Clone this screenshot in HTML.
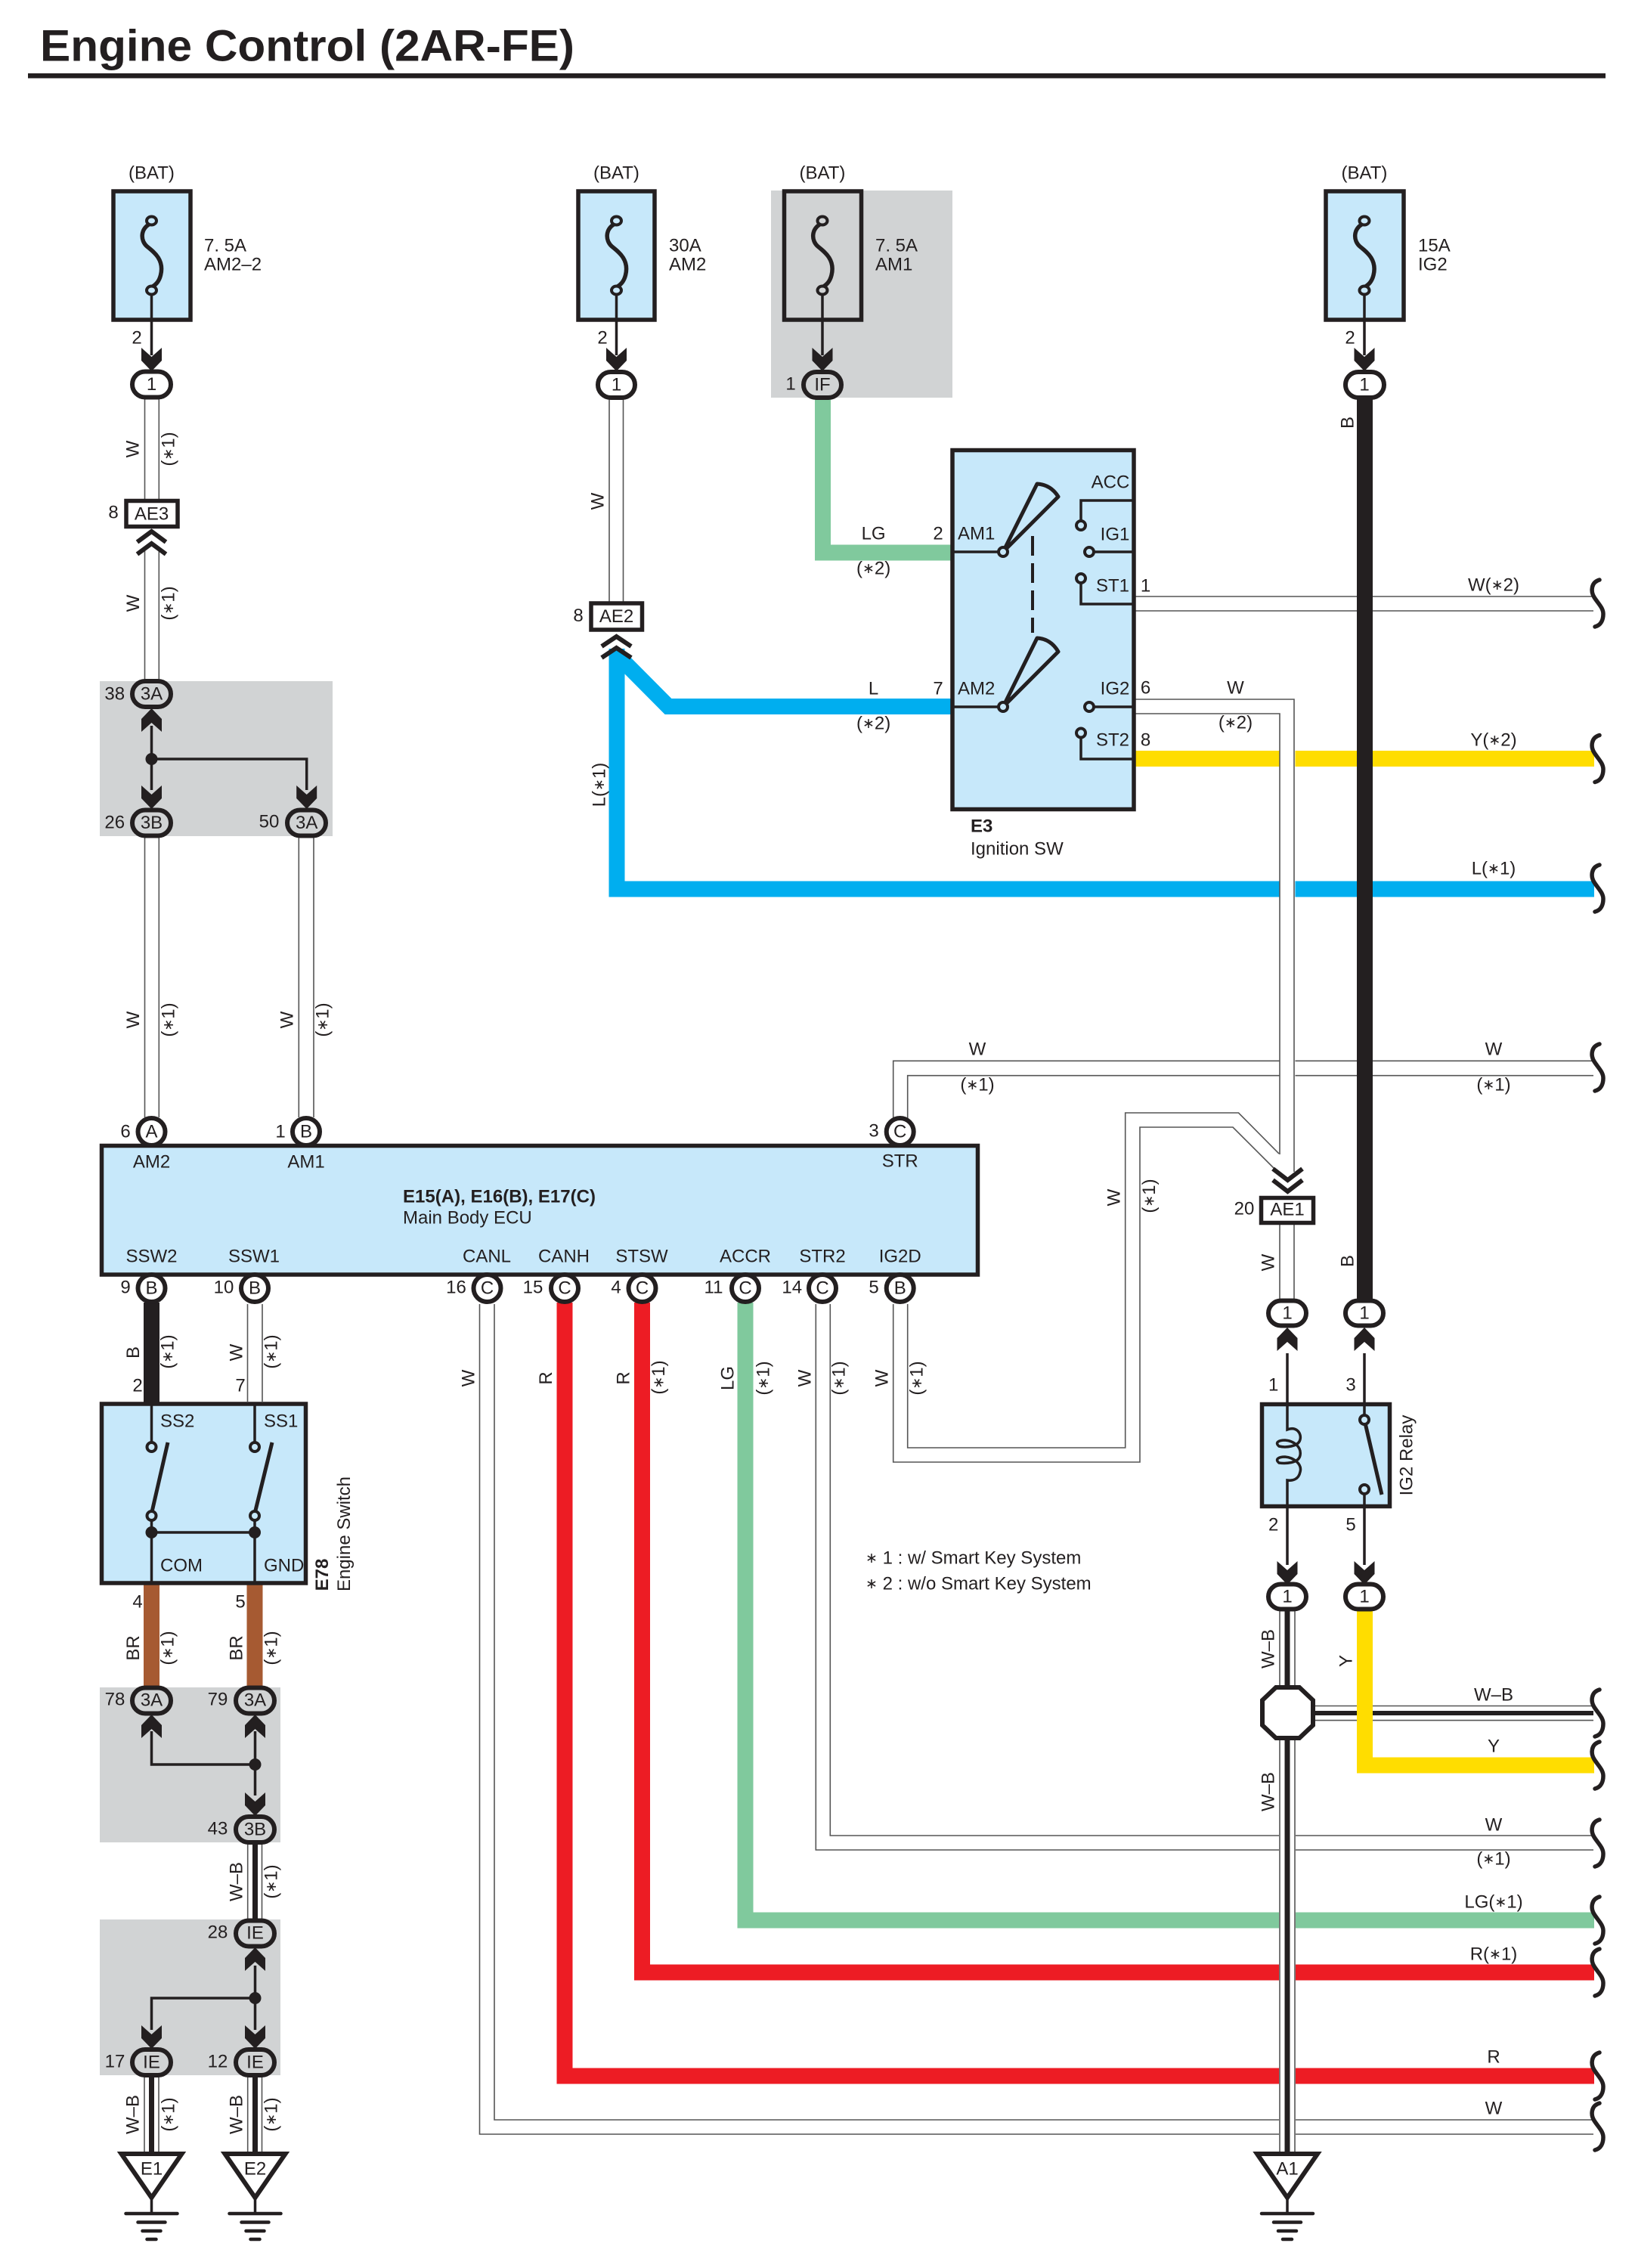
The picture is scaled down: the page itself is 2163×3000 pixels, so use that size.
<!DOCTYPE html>
<html><head><meta charset="utf-8"><title>Engine Control (2AR-FE)</title>
<style>
html,body{margin:0;padding:0;background:#fff}
svg{display:block}
text{font-family:"Liberation Sans",sans-serif;font-size:24px;fill:#231f20;text-anchor:middle;dominant-baseline:central}
.a{font-size:19px}
.b{font-weight:bold}
.s{text-anchor:start}
.w{fill:none;stroke:#555;stroke-width:1.6}
.t{fill:none;stroke:#231f20;stroke-width:3.5}
.p{fill:#fff;stroke:#231f20;stroke-width:6}
.pg{fill:#d1d3d4;stroke:#231f20;stroke-width:6}
.box{fill:#c7e8fa;stroke:#231f20;stroke-width:5.5}
.bk{fill:#fff;stroke:#231f20;stroke-width:5.5}
.hv{fill:none;stroke-width:21}
.ch{fill:none;stroke:#231f20;stroke-width:6}
</style></head><body>
<svg xmlns="http://www.w3.org/2000/svg" width="2163" height="3000" viewBox="0 0 2163 3000">
<defs>
<path id="ad" fill="#231f20" d="M-13.5,-30 L0,-18 L13.5,-30 V-13 L0,1 L-13.5,-13Z"/>
<path id="au" fill="#231f20" d="M-13.5,30 L0,18 L13.5,30 V13 L0,-1 L-13.5,13Z"/>
<g id="fuse"><path fill="none" stroke="#231f20" stroke-width="5.5" d="M-2,4 C-15,11 -15,26 -6,34 C4,42 17,52 12,72 C10,80 6,85 -2,89"/><ellipse cx="0" cy="0" rx="6.500" ry="5.500" stroke="#231f20" stroke-width="4"/><ellipse cx="0" cy="92" rx="6.500" ry="5.500" stroke="#231f20" stroke-width="4"/></g>
<path id="br" fill="none" stroke="#231f20" stroke-width="5.5" stroke-linecap="round" d="M3,-31 C-8,-28 -9,-16 -4,-8 C1,0 8,6 8,14 C8,22 5,29 -3,31"/>
<g id="gnd"><path fill="#fff" stroke="#231f20" stroke-width="6" d="M-40,2 H40 L0,60Z"/><path stroke="#231f20" stroke-width="3.5" d="M0,60V81"/><path stroke="#231f20" stroke-width="4.5" stroke-linecap="round" d="M-34,81H34 M-18,92.500H18 M-12,104H12 M-6,115H6"/></g>
<path id="chu" class="ch" d="M-19,17 L0,3 L19,17 M-19,33 L0,19 L19,33"/>
</defs>
<rect width="2163" height="3000" fill="#fff"/>

<!-- title -->
<text class="b s" x="53" y="61" style="font-size:58px" textLength="707" lengthAdjust="spacingAndGlyphs">Engine Control (2AR-FE)</text>
<rect x="37" y="97" width="2087" height="6.500" fill="#231f20"/>

<!-- gray zones -->
<g fill="#d1d3d4">
<rect x="1020" y="252" width="240" height="274"/>
<rect x="132" y="901" width="308" height="205"/>
<rect x="132" y="2232" width="239" height="205"/>
<rect x="132" y="2539" width="239" height="206"/>
</g>

<!-- thin white wires -->
<path class="w" d="M191.500,528V660M210.300,528V660M191.500,725V900M210.300,725V900M191.500,1108V1478M210.300,1108V1478M395.300,1108V1478M415,1108V1478M327.500,1725V1854M347,1725V1854M806,528V796M824.500,528V796
M1181.700,1480V1403.300H2108M1200.700,1480V1422.700H2108
M634.500,1725V2823H2108M654,1725V2804H2108
M1079.300,1725V2447H2108M1098.300,1725V2428H2108
M1181.700,1725V1934H1508V1491H1631L1685,1545M1200.700,1725V1915H1488.700V1472H1638.500L1692,1526
M1502,789H2108M1502,808H2108"/>

<!-- colored horizontals/verticals -->
<path class="hv" stroke="#80c99d" d="M1088.500,526V731H1258"/>
<path class="hv" stroke="#80c99d" d="M986,1723V2540H2109"/>
<path class="hv" stroke="#ed1c24" d="M849.500,1723V2609H2109"/>
<path class="hv" stroke="#ed1c24" d="M747,1723V2746H2109"/>
<path class="hv" stroke="#00aeef" d="M816,858V1176H2109"/>
<path class="hv" stroke="#00aeef" d="M816,866L884,934.500H1258"/>
<path class="hv" stroke="#ffdd00" d="M1502,1003.500H2109"/>

<!-- W-B horizontal -->
<path class="w" d="M1738,2256.500H2108M1738,2275.600H2108"/>
<path d="M1738,2266H2108" stroke="#231f20" stroke-width="6" fill="none"/>
<path class="hv" stroke="#ffdd00" d="M1805.500,2130V2335H2109"/>

<!-- vertical overlay W6 -->
<rect x="1692.500" y="925" width="21" height="622" fill="#fff"/>
<path class="w" d="M1502,925H1712V1550M1502,944H1693V1527"/>
<path class="w" d="M1693,1620V1718M1712,1620V1718"/>
<!-- black B wire -->
<path class="hv" stroke="#231f20" d="M1805.500,526V1720"/>

<!-- W-B vertical -->
<rect x="1692" y="2300" width="22" height="548" fill="#fff"/>
<path class="w" d="M1693,2130V2232M1713,2130V2232M1693,2300V2848M1713,2300V2848"/>
<path d="M1703,2130V2232M1703,2300V2848" stroke="#231f20" stroke-width="7" fill="none"/>

<!-- left column wires -->
<path class="hv" stroke="#231f20" d="M200.500,1723V1856"/>
<path class="hv" stroke="#a65a32" d="M200.500,2096V2232"/>
<path class="hv" stroke="#a65a32" d="M337,2096V2232"/>
<path class="w" d="M327.700,2438V2540M346.500,2438V2540M327.700,2746V2848M346.500,2746V2848M191,2746V2848M210,2746V2848"/>
<path d="M337.500,2438V2540M337.500,2746V2848M200.500,2746V2848" stroke="#231f20" stroke-width="7" fill="none"/>

<!-- fuses -->
<rect class="box" x="150" y="253" width="102" height="170"/>
<rect class="box" x="765" y="253" width="101" height="170"/>
<rect class="pg" x="1037.500" y="253" width="102" height="170" style="stroke-width:5.500"/>
<rect class="box" x="1754" y="253" width="103" height="170"/>
<use href="#fuse" x="200.500" y="292" fill="#c7e8fa"/>
<use href="#fuse" x="815.500" y="292" fill="#c7e8fa"/>
<use href="#fuse" x="1088" y="292" fill="#d1d3d4"/>
<use href="#fuse" x="1805" y="292" fill="#c7e8fa"/>
<path class="t" d="M200.500,389V470M815.500,389V470M1088,389V470M1805,389V470"/>

<!-- arrowheads -->
<use href="#ad" x="200.500" y="490"/><use href="#ad" x="815.500" y="490"/><use href="#ad" x="1088" y="490"/><use href="#ad" x="1805" y="490"/>
<use href="#au" x="200.500" y="938"/><use href="#ad" x="200.500" y="1069"/><use href="#ad" x="405.700" y="1069"/>
<use href="#au" x="200.500" y="2269"/><use href="#au" x="337.500" y="2269"/><use href="#ad" x="337.500" y="2401"/>
<use href="#au" x="337.500" y="2577"/><use href="#ad" x="200.500" y="2709"/><use href="#ad" x="337.500" y="2709"/>
<use href="#au" x="1703" y="1757"/><use href="#au" x="1805" y="1757"/><use href="#ad" x="1703" y="2095"/><use href="#ad" x="1805" y="2095"/>

<!-- junction lines -->
<path class="t" d="M200.500,960V1045M200.500,1004H405.700V1045"/>
<circle cx="200.500" cy="1004" r="8" fill="#231f20"/>
<path class="t" d="M200.500,2290V2334H337.500M337.500,2290V2375"/>
<circle cx="337.500" cy="2334" r="8" fill="#231f20"/>
<path class="t" d="M337.500,2600V2685M337.500,2643H200.500V2685"/>
<circle cx="337.500" cy="2643" r="8" fill="#231f20"/>

<!-- pills -->
<rect class="p" x="175" y="491.500" width="51" height="34" rx="17"/>
<rect class="p" x="791" y="492" width="49" height="34" rx="17"/>
<rect class="pg" x="1063" y="492" width="50" height="34" rx="17"/>
<rect class="p" x="1780" y="492" width="51" height="34" rx="17"/>
<rect class="pg" x="175" y="901" width="51" height="34" rx="17"/>
<rect class="pg" x="175" y="1071.500" width="51" height="34" rx="17"/>
<rect class="pg" x="380" y="1071.500" width="51" height="34" rx="17"/>
<rect class="pg" x="175" y="2232.500" width="51" height="34" rx="17"/>
<rect class="pg" x="312" y="2232.500" width="51" height="34" rx="17"/>
<rect class="pg" x="312" y="2403" width="51" height="34" rx="17"/>
<rect class="pg" x="312" y="2540.500" width="51" height="34" rx="17"/>
<rect class="pg" x="175" y="2711" width="51" height="34" rx="17"/>
<rect class="pg" x="312" y="2711" width="51" height="34" rx="17"/>
<rect class="p" x="1678" y="1720.500" width="50" height="33" rx="16.500"/>
<rect class="p" x="1780" y="1720.500" width="50" height="33" rx="16.500"/>
<rect class="p" x="1678" y="2095.500" width="50" height="33" rx="16.500"/>
<rect class="p" x="1780" y="2095.500" width="50" height="33" rx="16.500"/>

<!-- AE boxes + chevrons -->
<use href="#chu" x="200.500" y="700"/>
<path class="ch" d="M796,855 L815.500,842 L835,855 M796,870 L815.500,857 L835,870"/>
<path class="ch" d="M1684,1546 L1703.500,1561 L1723,1546 M1684,1561 L1703.500,1576 L1723,1561"/>
<rect class="bk" x="167" y="662.500" width="68" height="34"/>
<rect class="bk" x="782" y="798" width="67.500" height="35"/>
<rect class="bk" x="1668.500" y="1584.500" width="69" height="33"/>

<!-- ECU -->
<rect class="box" x="134.500" y="1515.500" width="1159" height="170.500"/>
<g fill="#fff" stroke="#231f20" stroke-width="6">
<circle cx="200.500" cy="1497" r="18"/><circle cx="405" cy="1497" r="18"/><circle cx="1190.700" cy="1497" r="18"/>
<circle cx="200.500" cy="1704" r="18"/><circle cx="337" cy="1704" r="18"/><circle cx="644.500" cy="1704" r="18"/><circle cx="747" cy="1704" r="18"/><circle cx="849.500" cy="1704" r="18"/><circle cx="986" cy="1704" r="18"/><circle cx="1088" cy="1704" r="18"/><circle cx="1190.700" cy="1704" r="18"/>
</g>

<!-- Ignition switch -->
<rect class="box" x="1260" y="595.500" width="240" height="475"/>
<g fill="none" stroke="#231f20" stroke-width="3.500">
<path d="M1260,730H1327M1260,935H1327"/>
<path d="M1499,662H1430V690M1499,730H1447M1430,770V799H1499M1499,935H1447M1430,975V1004H1499"/>
</g>
<g fill="#c7e8fa" stroke="#231f20" stroke-width="5" stroke-linejoin="round">
<path d="M1327,730 L1372,640 Q1390,641 1400,657 Z"/>
<path d="M1327,935 L1372,844 Q1390,845 1400,862 Z"/>
</g>
<path d="M1366,709V837" stroke="#231f20" stroke-width="4" stroke-dasharray="26 10" fill="none"/>
<g fill="#c7e8fa" stroke="#231f20" stroke-width="4">
<circle cx="1327" cy="730" r="6"/><circle cx="1327" cy="935" r="6"/>
<circle cx="1430" cy="695" r="6"/><circle cx="1441" cy="730" r="6"/><circle cx="1430" cy="765" r="6"/><circle cx="1441" cy="935" r="6"/><circle cx="1430" cy="969.500" r="6"/>
</g>

<!-- Engine switch -->
<rect class="box" x="134.500" y="1857" width="270" height="237"/>
<g fill="none" stroke="#231f20" stroke-width="3.500">
<path d="M200.500,1857V1908M337,1857V1908M200.500,2000V2094M337,2000V2094M200.500,2027H337"/>
</g>
<path d="M200.500,2002L222,1908M337,2002L360,1908" stroke="#231f20" stroke-width="5" fill="none"/>
<g fill="#c7e8fa" stroke="#231f20" stroke-width="4">
<circle cx="200.500" cy="1914" r="6"/><circle cx="337" cy="1914" r="6"/><circle cx="200.500" cy="2005" r="6"/><circle cx="337" cy="2005" r="6"/>
</g>
<circle cx="200.500" cy="2027" r="8" fill="#231f20"/><circle cx="337" cy="2027" r="8" fill="#231f20"/>

<!-- Relay -->
<rect class="box" x="1669.500" y="1857.500" width="169" height="135"/>
<path class="t" d="M1703,1790V1891C1716,1886 1722,1897 1720,1904C1718,1914 1700,1915 1692,1913C1686,1908 1692,1905 1700,1905C1712,1906 1722,1914 1720,1925C1718,1936 1700,1936 1692,1935C1686,1930 1692,1927 1700,1927C1712,1928 1723,1937 1720,1947C1718,1957 1710,1959 1703,1958V2070"/>
<path class="t" d="M1805,1790V1873M1805,1976V2070"/>
<path d="M1805,1878L1828,1977" stroke="#231f20" stroke-width="5" fill="none"/>
<circle cx="1805" cy="1878" r="6" fill="#c7e8fa" stroke="#231f20" stroke-width="4"/>
<circle cx="1805" cy="1970" r="6" fill="#c7e8fa" stroke="#231f20" stroke-width="4"/>

<!-- octagon -->
<polygon points="1688,2232 1719,2232 1737,2249 1737,2282 1719,2299 1688,2299 1670,2282 1670,2249" fill="#fff" stroke="#231f20" stroke-width="6"/>

<!-- grounds -->
<use href="#gnd" x="200.500" y="2847"/><use href="#gnd" x="337.500" y="2847"/><use href="#gnd" x="1703" y="2847"/>

<!-- braces -->
<use href="#br" x="2113" y="798"/><use href="#br" x="2113" y="1003.500"/><use href="#br" x="2113" y="1175"/><use href="#br" x="2113" y="1412"/>
<use href="#br" x="2113" y="2266"/><use href="#br" x="2113" y="2335"/><use href="#br" x="2113" y="2438"/><use href="#br" x="2113" y="2540"/><use href="#br" x="2113" y="2609"/><use href="#br" x="2113" y="2746"/><use href="#br" x="2113" y="2813"/>

<!-- text: fuses -->
<text x="200.500" y="229">(BAT)</text><text x="815.500" y="229">(BAT)</text><text x="1088" y="229">(BAT)</text><text x="1805" y="229">(BAT)</text>
<text class="s" x="270" y="325">7. 5A</text><text class="s" x="270" y="350">AM2–2</text>
<text class="s" x="885" y="325">30A</text><text class="s" x="885" y="350">AM2</text>
<text class="s" x="1158" y="325">7. 5A</text><text class="s" x="1158" y="350">AM1</text>
<text class="s" x="1876" y="325">15A</text><text class="s" x="1876" y="350">IG2</text>
<text x="181" y="447">2</text><text x="797" y="447">2</text><text x="1786" y="447">2</text>
<text x="200.500" y="508.500">1</text><text x="815.500" y="509">1</text><text x="1088" y="509">IF</text><text x="1046" y="508">1</text><text x="1805" y="509">1</text>

<!-- connectors -->
<text x="200.500" y="680">AE3</text><text x="150" y="678">8</text>
<text x="815.500" y="815.500">AE2</text><text x="765" y="814.500">8</text>
<text x="1703" y="1600">AE1</text><text x="1646" y="1599">20</text>
<text x="200.500" y="918">3A</text><text x="151.700" y="918">38</text>
<text x="200.500" y="1088.500">3B</text><text x="151.700" y="1088">26</text>
<text x="405.700" y="1088.500">3A</text><text x="356" y="1087">50</text>
<text x="200.500" y="2249">3A</text><text x="152" y="2248">78</text>
<text x="337.500" y="2249">3A</text><text x="288" y="2248">79</text>
<text x="337.500" y="2420">3B</text><text x="288" y="2419">43</text>
<text x="337.500" y="2557">IE</text><text x="288" y="2556">28</text>
<text x="200.500" y="2728">IE</text><text x="152" y="2727">17</text>
<text x="337.500" y="2728">IE</text><text x="288" y="2727">12</text>
<text x="1703" y="1737">1</text><text x="1805" y="1737">1</text><text x="1703" y="2112">1</text><text x="1805" y="2112">1</text>
<text x="200.500" y="2869">E1</text><text x="337.500" y="2869">E2</text><text x="1703" y="2869">A1</text>

<!-- ignition labels -->
<text class="s" x="1267" y="706">AM1</text><text class="s" x="1267" y="911">AM2</text>
<text x="1155.600" y="706">LG</text><text x="1155.600" y="752">(<tspan class="a">∗</tspan>2)</text><text x="1241" y="706">2</text>
<text x="1155.600" y="911">L</text><text x="1155.600" y="957">(<tspan class="a">∗</tspan>2)</text><text x="1241" y="911">7</text>
<text x="1469" y="638">ACC</text><text x="1475" y="707">IG1</text><text x="1472" y="775">ST1</text><text x="1475" y="911">IG2</text><text x="1472" y="979">ST2</text>
<text class="b s" x="1284" y="1093">E3</text><text class="s" x="1284" y="1123">Ignition SW</text>
<text x="1515.600" y="775">1</text><text x="1515.600" y="910">6</text><text x="1515.600" y="979">8</text>
<text x="1634.500" y="910">W</text><text x="1634.500" y="956">(<tspan class="a">∗</tspan>2)</text>
<text x="1976" y="774">W(<tspan class="a">∗</tspan>2)</text><text x="1976" y="979">Y(<tspan class="a">∗</tspan>2)</text><text x="1976" y="1149">L(<tspan class="a">∗</tspan>1)</text>

<!-- ECU labels -->
<text x="166" y="1497">6</text><text x="371" y="1497">1</text><text x="1156" y="1496">3</text>
<text x="200.500" y="1537">AM2</text><text x="405" y="1537">AM1</text><text x="1190.700" y="1536">STR</text>
<text class="b s" x="533" y="1583" textLength="255">E15(A), E16(B), E17(C)</text>
<text class="s" x="533" y="1611">Main Body ECU</text>
<text x="200.500" y="1662">SSW2</text><text x="336" y="1662">SSW1</text><text x="644" y="1662">CANL</text><text x="746" y="1662">CANH</text><text x="849" y="1662">STSW</text><text x="986" y="1662">ACCR</text><text x="1088" y="1662">STR2</text><text x="1190.700" y="1662">IG2D</text>
<text x="200.500" y="1704">B</text><text x="337" y="1704">B</text><text x="644.500" y="1704">C</text><text x="747" y="1704">C</text><text x="849.500" y="1704">C</text><text x="986" y="1704">C</text><text x="1088" y="1704">C</text><text x="1190.700" y="1704">B</text>
<text x="200.500" y="1497">A</text><text x="405" y="1497">B</text><text x="1190.700" y="1497">C</text>
<text x="166" y="1703">9</text><text x="296" y="1703">10</text><text x="603.500" y="1703">16</text><text x="705" y="1703">15</text><text x="815" y="1703">4</text><text x="944" y="1703">11</text><text x="1047.700" y="1703">14</text><text x="1156" y="1703">5</text>
<text x="1293" y="1388">W</text><text x="1293" y="1435">(<tspan class="a">∗</tspan>1)</text><text x="1976" y="1388">W</text><text x="1976" y="1435">(<tspan class="a">∗</tspan>1)</text>

<!-- switch labels -->
<text class="s" x="212" y="1880">SS2</text><text class="s" x="349" y="1880">SS1</text><text class="s" x="212" y="2071">COM</text><text class="s" x="349" y="2071">GND</text>
<text x="182" y="1833">2</text><text x="318" y="1833">7</text><text x="182" y="2119">4</text><text x="318" y="2119">5</text>

<!-- relay labels -->
<text x="1684.700" y="1832">1</text><text x="1787" y="1832">3</text><text x="1684.700" y="2017">2</text><text x="1787" y="2017">5</text>

<!-- right labels -->
<text x="1976" y="2242">W–B</text><text x="1976" y="2310">Y</text><text x="1976" y="2414">W</text><text x="1976" y="2459">(<tspan class="a">∗</tspan>1)</text><text x="1976" y="2516">LG(<tspan class="a">∗</tspan>1)</text><text x="1976" y="2585">R(<tspan class="a">∗</tspan>1)</text><text x="1976" y="2721">R</text><text x="1976" y="2789">W</text>

<!-- notes -->
<text class="s" x="1145" y="2061"><tspan class="a">∗</tspan> 1 : w/ Smart Key System</text>
<text class="s" x="1145" y="2095"><tspan class="a">∗</tspan> 2 : w/o Smart Key System</text>

<!-- rotated labels -->
<g>
<text transform="rotate(-90 176 594)" x="176" y="594">W</text><text transform="rotate(-90 223 594)" x="223" y="594">(<tspan class="a">∗</tspan>1)</text>
<text transform="rotate(-90 176.700 798)" x="176.700" y="798">W</text><text transform="rotate(-90 223 798)" x="223" y="798">(<tspan class="a">∗</tspan>1)</text>
<text transform="rotate(-90 176.700 1349)" x="176.700" y="1349">W</text><text transform="rotate(-90 223 1349)" x="223" y="1349">(<tspan class="a">∗</tspan>1)</text>
<text transform="rotate(-90 380 1349)" x="380" y="1349">W</text><text transform="rotate(-90 427 1349)" x="427" y="1349">(<tspan class="a">∗</tspan>1)</text>
<text transform="rotate(-90 791 663)" x="791" y="663">W</text>
<text transform="rotate(-90 793 1038)" x="793" y="1038">L(<tspan class="a">∗</tspan>1)</text>
<text transform="rotate(-90 1783 559)" x="1783" y="559">B</text>
<text transform="rotate(-90 176.500 1789)" x="176.500" y="1789">B</text><text transform="rotate(-90 222 1788)" x="222" y="1788">(<tspan class="a">∗</tspan>1)</text>
<text transform="rotate(-90 313 1789)" x="313" y="1789">W</text><text transform="rotate(-90 359 1788)" x="359" y="1788">(<tspan class="a">∗</tspan>1)</text>
<text transform="rotate(-90 620 1823)" x="620" y="1823">W</text>
<text transform="rotate(-90 722.500 1823)" x="722.500" y="1823">R</text>
<text transform="rotate(-90 825 1823)" x="825" y="1823">R</text><text transform="rotate(-90 871.500 1822)" x="871.500" y="1822">(<tspan class="a">∗</tspan>1)</text>
<text transform="rotate(-90 963 1823)" x="963" y="1823">LG</text><text transform="rotate(-90 1010 1823)" x="1010" y="1823">(<tspan class="a">∗</tspan>1)</text>
<text transform="rotate(-90 1065 1823)" x="1065" y="1823">W</text><text transform="rotate(-90 1110 1823)" x="1110" y="1823">(<tspan class="a">∗</tspan>1)</text>
<text transform="rotate(-90 1167 1823)" x="1167" y="1823">W</text><text transform="rotate(-90 1213 1823)" x="1213" y="1823">(<tspan class="a">∗</tspan>1)</text>
<text transform="rotate(-90 1474 1584)" x="1474" y="1584">W</text><text transform="rotate(-90 1520.700 1582)" x="1520.700" y="1582">(<tspan class="a">∗</tspan>1)</text>
<text transform="rotate(-90 1678 1670)" x="1678" y="1670">W</text>
<text transform="rotate(-90 1783 1668)" x="1783" y="1668">B</text>
<text class="b" transform="rotate(-90 426.500 2083)" x="426.500" y="2083">E78</text>
<text transform="rotate(-90 455.600 2029)" x="455.600" y="2029">Engine Switch</text>
<text transform="rotate(-90 1861 1925)" x="1861" y="1925">IG2 Relay</text>
<text transform="rotate(-90 176.500 2180)" x="176.500" y="2180">BR</text><text transform="rotate(-90 222 2180)" x="222" y="2180">(<tspan class="a">∗</tspan>1)</text>
<text transform="rotate(-90 313 2180)" x="313" y="2180">BR</text><text transform="rotate(-90 359 2180)" x="359" y="2180">(<tspan class="a">∗</tspan>1)</text>
<text transform="rotate(-90 313 2489)" x="313" y="2489">W–B</text><text transform="rotate(-90 359 2489)" x="359" y="2489">(<tspan class="a">∗</tspan>1)</text>
<text transform="rotate(-90 176 2797)" x="176" y="2797">W–B</text><text transform="rotate(-90 223 2797)" x="223" y="2797">(<tspan class="a">∗</tspan>1)</text>
<text transform="rotate(-90 313 2797)" x="313" y="2797">W–B</text><text transform="rotate(-90 359 2797)" x="359" y="2797">(<tspan class="a">∗</tspan>1)</text>
<text transform="rotate(-90 1678 2181)" x="1678" y="2181">W–B</text>
<text transform="rotate(-90 1781 2197)" x="1781" y="2197">Y</text>
<text transform="rotate(-90 1678 2370)" x="1678" y="2370">W–B</text>
</g>
</svg>
</body></html>
